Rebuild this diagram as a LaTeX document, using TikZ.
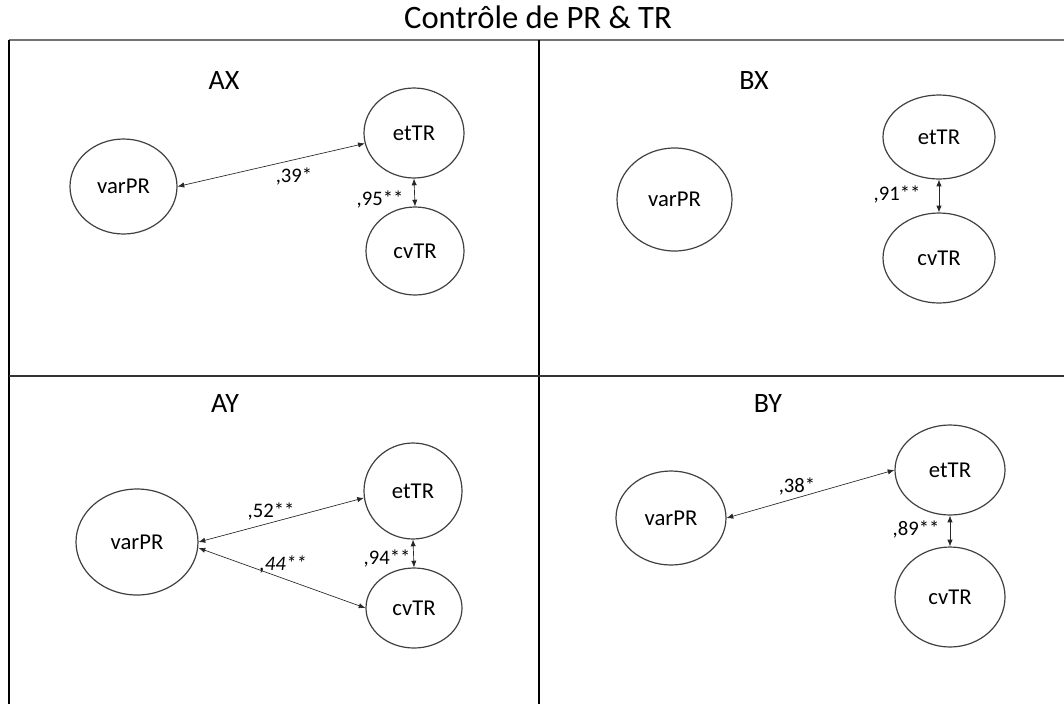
\documentclass[tikz,border=0pt]{standalone}
\usepackage{fontspec}
\setmainfont{Carlito}
\usetikzlibrary{shapes.geometric,arrows.meta}
\begin{document}
\begin{tikzpicture}[x=0.75pt,y=-0.75pt,
  var/.style n args={2}{draw=black!75, line width=0.9pt, ellipse, inner sep=0pt,
     minimum width=#1*0.75pt, minimum height=#2*0.75pt, font=\fontsize{17}{20}\selectfont},
  lab/.style={font=\fontsize{15.5}{18}\selectfont, inner sep=0pt},
  ttl/.style={font=\fontsize{21}{25}\selectfont, inner sep=0pt},
  link/.style={{Latex[length=5pt,width=4pt]}-{Latex[length=5pt,width=4pt]}, line width=0.5pt, black!85}]
\useasboundingbox (0,0) rectangle (1064,704);
% frame
\node[font=\fontsize{24.5}{28}\selectfont, inner sep=0pt] (title) at (538,17) {Contrôle de PR \& TR};
\coordinate (tl) at (9,40); \coordinate (tr) at (1064,40);
\coordinate (bl) at (9,704); \coordinate (ml) at (9,376); \coordinate (mr) at (1064,376);
\coordinate (vt) at (539,40); \coordinate (vb) at (539,704);
\draw[line width=1.5pt, black!55] (tl) -- (tr);
\draw[line width=1pt] (tl) -- (bl);
\draw[line width=1pt] (vt) -- (vb);
\draw[line width=1.3pt, black!80] (ml) -- (mr);
% AX
\node[ttl] (tAX) at (224,81) {AX};
\node[var={107}{95}] (axv) at (123.5,186.5) {varPR};
\node[var={100}{90}] (axe) at (414,133) {etTR};
\node[var={98}{88}] (axc) at (415,251) {cvTR};
\draw[link] (axv.east) -- (axe.192);
\draw[link] (axe.south) -- (axc.north);
\node[lab] (l39) at (294,176) {,39*};
\node[lab] (l95) at (380,199) {,95**};
% BX
\node[ttl] (tBX) at (754,81) {BX};
\node[var={115}{103}] (bxv) at (674.5,199.5) {varPR};
\node[var={112}{84}] (bxe) at (939,137) {etTR};
\node[var={112}{90}] (bxc) at (939,258) {cvTR};
\draw[link] (bxe.south) -- (bxc.north);
\node[lab] (l91) at (897,194) {,91**};
% AY
\node[ttl] (tAY) at (225,404) {AY};
\node[var={122}{106}] (ayv) at (137,542) {varPR};
\node[var={98}{96}] (aye) at (413,491) {etTR};
\node[var={96}{80}] (ayc) at (414,608) {cvTR};
\draw[link] (ayv.east) -- (aye.188);
\draw[link] ([yshift=-4.5pt]ayv.east) -- (ayc.west);
\draw[link] (aye.south) -- (ayc.north);
\node[lab] (l52) at (271,511) {,52**};
\node[lab, font=\fontsize{15.5}{18}\selectfont\itshape] (l44) at (283,564) {,44**};
\node[lab] (l94) at (387,558) {,94**};
% BY
\node[ttl] (tBY) at (768,404) {BY};
\node[var={110}{94}] (byv) at (671,518) {varPR};
\node[var={110}{90}] (bye) at (950,470) {etTR};
\node[var={110}{100}] (byc) at (950,597) {cvTR};
\draw[link] (byv.east) -- (bye.west);
\draw[link] (bye.south) -- (byc.north);
\node[lab] (l38) at (797,486) {,38*};
\node[lab] (l89) at (916,529) {,89**};
\end{tikzpicture}
\end{document}
